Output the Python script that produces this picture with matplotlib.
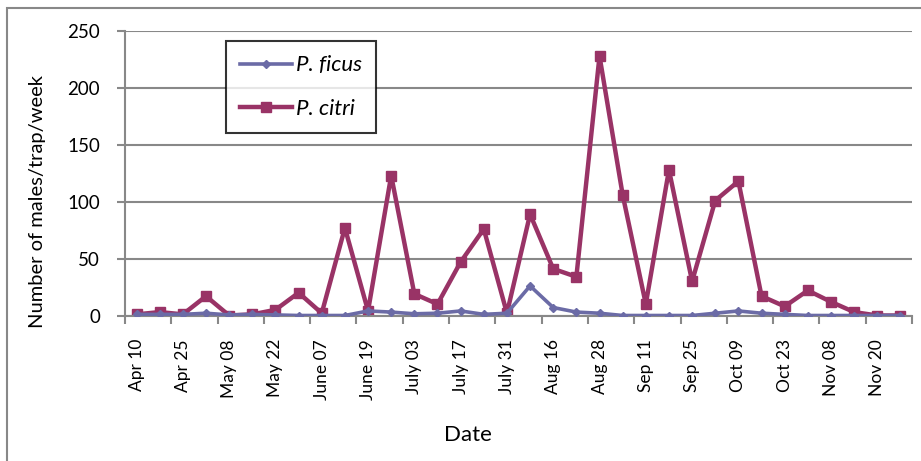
import numpy as np
import matplotlib.pyplot as plt
from matplotlib.patches import Rectangle

# every other sampling date is labelled on the axis
tick_labels = ['Apr 10', 'Apr 25', 'May 08', 'May 22', 'June 07', 'June 19',
               'July 03', 'July 17', 'July 31', 'Aug 16', 'Aug 28', 'Sep 11',
               'Sep 25', 'Oct 09', 'Oct 23', 'Nov 08', 'Nov 20']

p_ficus = [1, 1, 1, 2, 0.5, 1, 0.5, 0, 0, 0, 4, 3, 1.5, 2, 4, 1, 2,
           26, 7, 3, 2, 0, 0, 0, 0, 2, 4, 2, 1, 0, 0, 0, 0, 0]
p_citri = [1, 3, 1, 17, 0, 1, 5, 20, 2, 77, 4, 123, 19, 10, 47, 76, 2,
           89, 41, 34, 228, 106, 10, 128, 30, 101, 118, 17, 8, 22, 12, 3, 0, 0]

blue = '#6B6BA6'
red = '#993366'
grid_col = '#888888'
plt.rcParams['font.family'] = ['Lato', 'DejaVu Sans']

fig = plt.figure(figsize=(9.21, 4.61), dpi=100)
ax = fig.add_axes([125 / 921, 1 - 315.5 / 461, (912 - 125) / 921, (315.5 - 31) / 461])

x = np.arange(len(p_citri))
ax.plot(x, p_ficus, color=blue, lw=2.6, marker='D', ms=4.5, label='P. ficus', zorder=3)
ax.plot(x, p_citri, color=red, lw=3.2, marker='s', ms=7, label='P. citri', zorder=2)

ax.set_xlim(-0.5, len(p_citri) - 0.5)
ax.set_ylim(0, 250)
ax.set_yticks(np.arange(0, 251, 50))
ax.yaxis.grid(True, color=grid_col, lw=1.5)
ax.set_axisbelow(True)

ax.set_xticks(np.arange(0, len(p_citri), 2))
ax.set_xticklabels(tick_labels, rotation=90, fontsize=12.5)
ax.set_xticks(np.arange(-0.5, len(p_citri), 2), minor=True)
ax.tick_params(axis='x', which='major', length=0, pad=17)
ax.tick_params(axis='x', which='minor', length=6, width=1.5, color=grid_col)
ax.tick_params(axis='y', length=6, width=1.5, color=grid_col, labelsize=13.5, pad=12)

for side in ['top', 'right']:
    ax.spines[side].set_visible(False)
for side in ['left', 'bottom']:
    ax.spines[side].set_color(grid_col)
    ax.spines[side].set_linewidth(1.5)

fig.text(38 / 921, 1 - 202 / 461, 'Number of males/trap/week', fontsize=14.5,
         rotation=90, ha='center', va='center')
fig.text(468 / 921, 1 - 435 / 461, 'Date', fontsize=16, ha='center', va='center')

leg = ax.legend(loc='upper left', bbox_to_anchor=((226 - 125) / 787, 1 - 10 / 284.5),
                borderaxespad=0, prop={'style': 'italic', 'size': 16},
                fancybox=False, frameon=True, edgecolor='black',
                handlelength=2.3, labelspacing=1.05, borderpad=0.65,
                handletextpad=0.2)
leg.get_frame().set_linewidth(1.5)

fig.patches.append(Rectangle((7 / 921, -0.1), 1.2, 1.1 - 8 / 461,
                             transform=fig.transFigure, fill=False,
                             edgecolor=grid_col, lw=1.5))

fig.savefig('out.png', dpi=100)
